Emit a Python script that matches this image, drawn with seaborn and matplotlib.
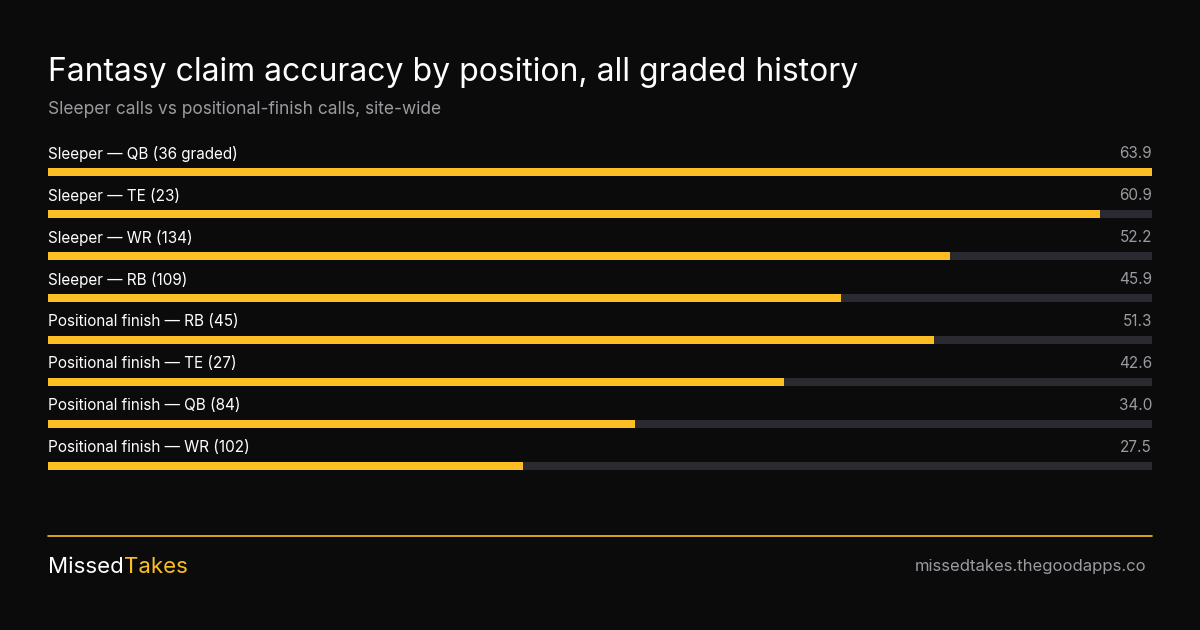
import matplotlib
matplotlib.use("Agg")
import matplotlib.pyplot as plt
import seaborn as sns
import pandas as pd

# data
labels = ["Sleeper — QB (36 graded)", "Sleeper — TE (23)", "Sleeper — WR (134)",
          "Sleeper — RB (109)", "Positional finish — RB (45)", "Positional finish — TE (27)",
          "Positional finish — QB (84)", "Positional finish — WR (102)"]
values = [63.9, 60.9, 52.2, 45.9, 51.3, 42.6, 34.0, 27.5]

BG = "#0b0b0b"
YEL = "#fbbf24"
TRACK = "#2b2a30"
GRAY = "#9a9aa0"

sns.set_theme(style="white")
plt.rcParams["font.family"] = ["Inter", "DejaVu Sans"]

df = pd.DataFrame({"label": labels, "value": values})
df["track"] = max(values)

fig = plt.figure(figsize=(12, 6.3), dpi=100, facecolor=BG)
ax = fig.add_axes([0.04, 1 - 490 / 630, 0.92, 360 / 630])
ax.set_facecolor(BG)

sns.barplot(data=df, y="label", x="track", color=TRACK, width=0.2, ax=ax, orient="h", saturation=1)
sns.barplot(data=df, y="label", x="value", color=YEL, width=0.2, ax=ax, orient="h", saturation=1)
for p in ax.patches:
    p.set_linewidth(0)

ax.set_xlim(0, max(values))
ax.set_ylim(7.571, -1)
ax.axis("off")

for i, (lab, v) in enumerate(zip(labels, values)):
    ax.text(0, i - 0.43, lab, color="white", fontsize=11, va="center", ha="left")
    ax.text(max(values), i - 0.43, f"{v:.1f}", color=GRAY, fontsize=11, va="center", ha="right")

fig.text(48 / 1200, 1 - 72 / 630, "Fantasy claim accuracy by position, all graded history",
         color="white", fontsize=23, va="center", ha="left")
fig.text(48 / 1200, 1 - 110 / 630, "Sleeper calls vs positional-finish calls, site-wide",
         color=GRAY, fontsize=12.5, va="center", ha="left")

fig.add_artist(plt.Line2D([48 / 1200, 1152 / 1200], [1 - 536 / 630] * 2, color=YEL, lw=1.2))
t = fig.text(48 / 1200, 1 - 567 / 630, "Missed", color="white", fontsize=16, va="center", ha="left")
fig.canvas.draw()
bb = t.get_window_extent()
fig.text(bb.x1 / 1200, 1 - 567 / 630, "Takes", color=YEL, fontsize=16, va="center", ha="left")
fig.text(1146 / 1200, 1 - 567 / 630, "missedtakes.thegoodapps.co", color=GRAY, fontsize=12,
         va="center", ha="right")

fig.savefig("out.png", dpi=100, facecolor=BG)
